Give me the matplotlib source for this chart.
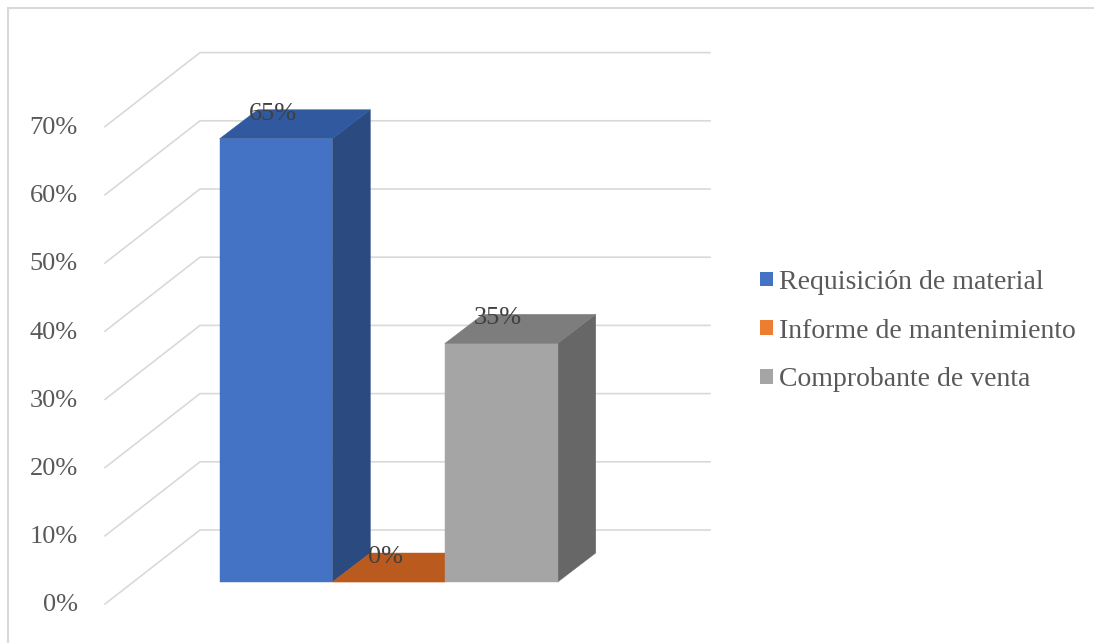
import matplotlib
matplotlib.use('Agg')
import matplotlib.pyplot as plt
from matplotlib.patches import Polygon, Patch, Rectangle

categories = ['Requisición de material', 'Informe de mantenimiento', 'Comprobante de venta']
values = [65, 0, 35]
value_labels = ['65%', '0%', '35%']
ticks = [0, 10, 20, 30, 40, 50, 60, 70]
tick_labels = ['0%', '10%', '20%', '30%', '40%', '50%', '60%', '70%']

front_colors = ['#4472C4', '#ED7D31', '#A5A5A5']
top_colors = ['#31599F', '#BA5A1F', '#7D7D7D']
side_colors = ['#2A4A80', '#9E4A18', '#676767']

plt.rcParams['font.family'] = ['Liberation Serif', 'DejaVu Serif']
TEXT = '#595959'
GRID = '#D9D9D9'
FS = 19
FS_LEG = 20

W, H = 1094, 643
# projection of the fake 3d scene onto a flat axes
PX, PY = 112.7, 6.82          # pixels per category / per percent
X0, Y0 = 276, 582             # first bar centre, bar floor (pixels)
DX, DY = 38 / PX, 29 / PY     # bar depth
GX0, GY0 = (105 - X0) / PX, (Y0 - 604) / PY   # front end of grid lines
GX1, GY1 = (200 - X0) / PX, (Y0 - 530) / PY   # back wall corner
GX2 = (710 - X0) / PX                         # back wall right end

fig = plt.figure(figsize=(W / 100, H / 100), dpi=100)
ax = fig.add_axes([0, 0, 1, 1])
ax.set_xlim(-X0 / PX, (W - X0) / PX)
ax.set_ylim((Y0 - H) / PY, Y0 / PY)
ax.axis('off')

# grid: diagonal side wall + horizontal back wall
for t, lab in zip(ticks, tick_labels):
    ax.plot([GX0, GX1, GX2], [t + GY0, t + GY1, t + GY1], color=GRID, lw=1.2, zorder=1,
            solid_joinstyle='miter')
    ax.text(GX0 - 0.24, t + GY0 - 0.2, lab, ha='right', va='center', fontsize=FS, color=TEXT)

# bars
for i, v in enumerate(values):
    l, r = i - 0.5, i + 0.5
    front = [(l, 0), (r, 0), (r, v), (l, v)]
    top = [(l, v), (r, v), (r + DX, v + DY), (l + DX, v + DY)]
    side = [(r, 0), (r + DX, DY), (r + DX, v + DY), (r, v)]
    for pts, c in ((side, side_colors[i]), (front, front_colors[i]), (top, top_colors[i])):
        ax.add_patch(Polygon(pts, closed=True, facecolor=c, edgecolor=c, lw=0.3, zorder=2 + i))
    ax.text(i - 0.03, v + 25 / PY, value_labels[i], ha='center', va='center',
            fontsize=FS, color='#404040', zorder=10)

# legend
handles = [Patch(facecolor=c, edgecolor='none') for c in front_colors]
fig.legend(handles, categories, loc='center left', bbox_to_anchor=(760 / W, 1 - 331 / H),
           frameon=False, fontsize=FS_LEG, labelcolor=TEXT, handlelength=0.45, handleheight=0.45,
           handletextpad=0.25, labelspacing=0.85, borderpad=0, borderaxespad=0)

# chart area border
fig.add_artist(Rectangle((8 / W, -0.1), 1.2, 1.1 - 8 / H, transform=fig.transFigure,
                         fill=False, edgecolor=GRID, lw=1.5))

fig.savefig('out.png', dpi=100)
